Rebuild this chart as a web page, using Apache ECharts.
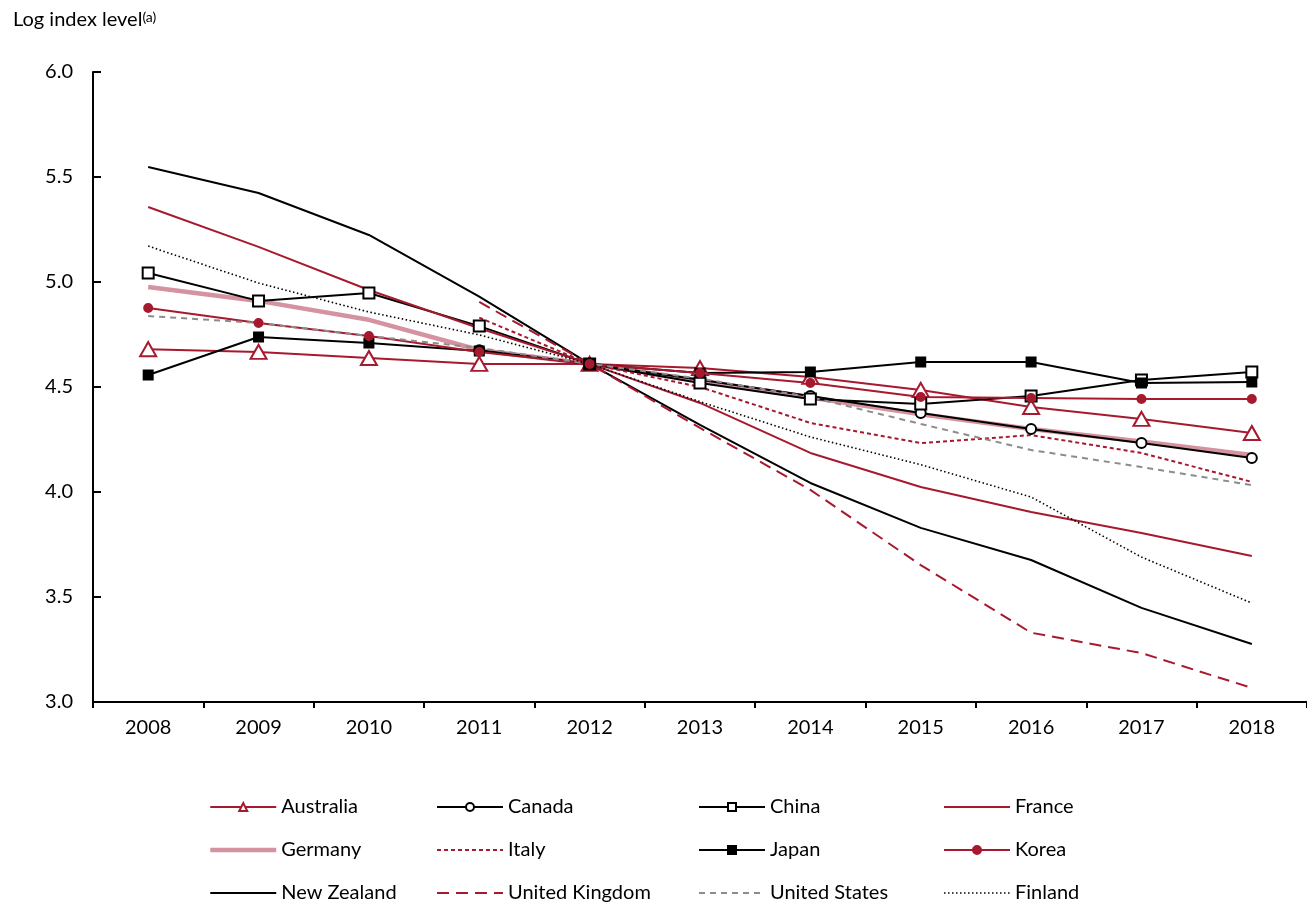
<!DOCTYPE html>
<html>
<head>
<meta charset="utf-8">
<script src="https://cdn.jsdelivr.net/npm/echarts@6/dist/echarts.min.js"></script>
<style>
  html, body { margin: 0; padding: 0; background: #fff; }
  #chart { width: 1307px; height: 904px; }
</style>
</head>
<body>
<div id="chart"></div>
<script>
// years on the x axis
var years = ['2008', '2009', '2010', '2011', '2012', '2013', '2014', '2015', '2016', '2017', '2018'];
var yTicks = [3.0, 3.5, 4.0, 4.5, 5.0, 5.5, 6.0];

// log index level per country
var australia = [4.68, 4.667, 4.638, 4.61, 4.61, 4.59, 4.548, 4.486, 4.405, 4.348, 4.281];
var canada = [null, null, null, 4.675, 4.61, 4.535, 4.457, 4.376, 4.30, 4.233, 4.162];
var china = [5.043, 4.91, 4.948, 4.79, 4.61, 4.519, 4.443, 4.419, 4.457, 4.533, 4.571];
var france = [5.357, 5.167, 4.962, 4.78, 4.61, 4.424, 4.186, 4.024, 3.905, 3.805, 3.695];
var germany = [4.976, 4.91, 4.82, 4.676, 4.61, 4.53, 4.45, 4.37, 4.30, 4.24, 4.176];
var italy = [null, null, null, 4.83, 4.61, 4.50, 4.329, 4.233, 4.271, 4.186, 4.048];
var japan = [4.557, 4.738, 4.71, 4.671, 4.61, 4.567, 4.571, 4.619, 4.619, 4.519, 4.524];
var korea = [4.876, 4.805, 4.743, 4.667, 4.61, 4.567, 4.519, 4.452, 4.448, 4.443, 4.443];
var newZealand = [5.548, 5.424, 5.224, 4.93, 4.61, 4.32, 4.043, 3.829, 3.676, 3.448, 3.276];
var unitedKingdom = [null, null, null, 4.905, 4.61, 4.305, 4.01, 3.652, 3.33, 3.233, 3.067];
var unitedStates = [4.838, 4.805, 4.743, 4.686, 4.61, 4.54, 4.452, 4.324, 4.2, 4.119, 4.033];
var finland = [5.171, 4.995, 4.857, 4.748, 4.61, 4.43, 4.262, 4.13, 3.976, 3.69, 3.471];

var RED = '#A6192E';
var PINK = '#D4939F';
var GREY = '#8C8C8C';
var BLACK = '#000000';
var FONT = 'Lato';

function line(name, data, color, opts) {
  opts = opts || {};
  return {
    name: name,
    type: 'line',
    data: data,
    z: opts.z || 2,
    symbol: opts.symbol || 'none',
    symbolSize: opts.size || 8,
    showSymbol: !!opts.symbol,
    connectNulls: false,
    animation: false,
    // hide the legend dot for plain lines
    itemStyle: { color: color, borderColor: color, borderWidth: 2, opacity: opts.symbol ? 1 : 0 },
    lineStyle: { color: color, width: opts.width || 2, type: opts.dash || 'solid', opacity: 1 },
    emphasis: { disabled: true }
  };
}

var chart = echarts.init(document.getElementById('chart'));

var legendBase = {
  orient: 'vertical',
  top: 797,
  height: 130,
  padding: 0,
  itemWidth: 66,
  itemHeight: 10,
  itemGap: 23,
  lineStyle: { width: 'inherit' },
  textStyle: { fontFamily: FONT, fontSize: 20, color: '#000' },
  selectedMode: false
};

var option = {
  animation: false,
  textStyle: { fontFamily: FONT },
  graphic: [
    {
      type: 'text', left: 13, top: 10,
      style: {
        text: '{a|Log index level}{b|(a)}',
        rich: {
          a: { fontFamily: FONT, fontSize: 20, fill: '#000' },
          b: { fontFamily: FONT, fontSize: 14, fill: '#000', verticalAlign: 'top' }
        }
      }
    }
  ],
  grid: { left: 93, top: 72, width: 1222, height: 630 },
  legend: [
    Object.assign({}, legendBase, { left: 208, data: ['Australia', 'Germany', 'New Zealand'] }),
    Object.assign({}, legendBase, { left: 436, data: ['Canada', 'Italy', 'United Kingdom'] }),
    Object.assign({}, legendBase, { left: 698, data: ['China', 'Japan', 'United States'] }),
    Object.assign({}, legendBase, { left: 943, data: ['France', 'Korea', 'Finland'] })
  ],
  xAxis: {
    type: 'category',
    data: years,
    boundaryGap: true,
    axisLine: { lineStyle: { color: '#000', width: 2 } },
    axisTick: { show: true, inside: false, length: 6, lineStyle: { color: '#000', width: 2 } },
    axisLabel: { color: '#000', fontSize: 20, fontFamily: FONT, margin: 16 },
    splitLine: { show: false }
  },
  yAxis: {
    type: 'value',
    min: yTicks[0],
    max: yTicks[yTicks.length - 1],
    interval: 0.5,
    axisLine: { show: true, lineStyle: { color: '#000', width: 2 } },
    axisTick: { show: true, inside: true, length: 8, lineStyle: { color: '#000', width: 2 } },
    axisLabel: {
      color: '#000', fontSize: 20, fontFamily: FONT, margin: 20,
      formatter: function (v) { return v.toFixed(1); }
    },
    splitLine: { show: false }
  },
  series: [
    line('Australia', australia, RED, { symbol: 'emptyTriangle', size: [16, 14] }),
    line('Canada', canada, BLACK, { symbol: 'emptyCircle', size: 10 }),
    line('China', china, BLACK, { symbol: 'emptyRect', size: 11 }),
    line('France', france, RED),
    line('Germany', germany, PINK, { width: 4.5, z: 1 }),
    line('Italy', italy, RED, { dash: [4, 3] }),
    line('Japan', japan, BLACK, { symbol: 'rect', size: 9 }),
    line('Korea', korea, RED, { symbol: 'circle', size: 8 }),
    line('New Zealand', newZealand, BLACK),
    line('United Kingdom', unitedKingdom, RED, { dash: [12, 7] }),
    line('United States', unitedStates, GREY, { dash: [6, 5] }),
    line('Finland', finland, BLACK, { dash: [1.5, 2.5], width: 1.6 })
  ]
};

chart.setOption(option);
</script>
</body>
</html>
